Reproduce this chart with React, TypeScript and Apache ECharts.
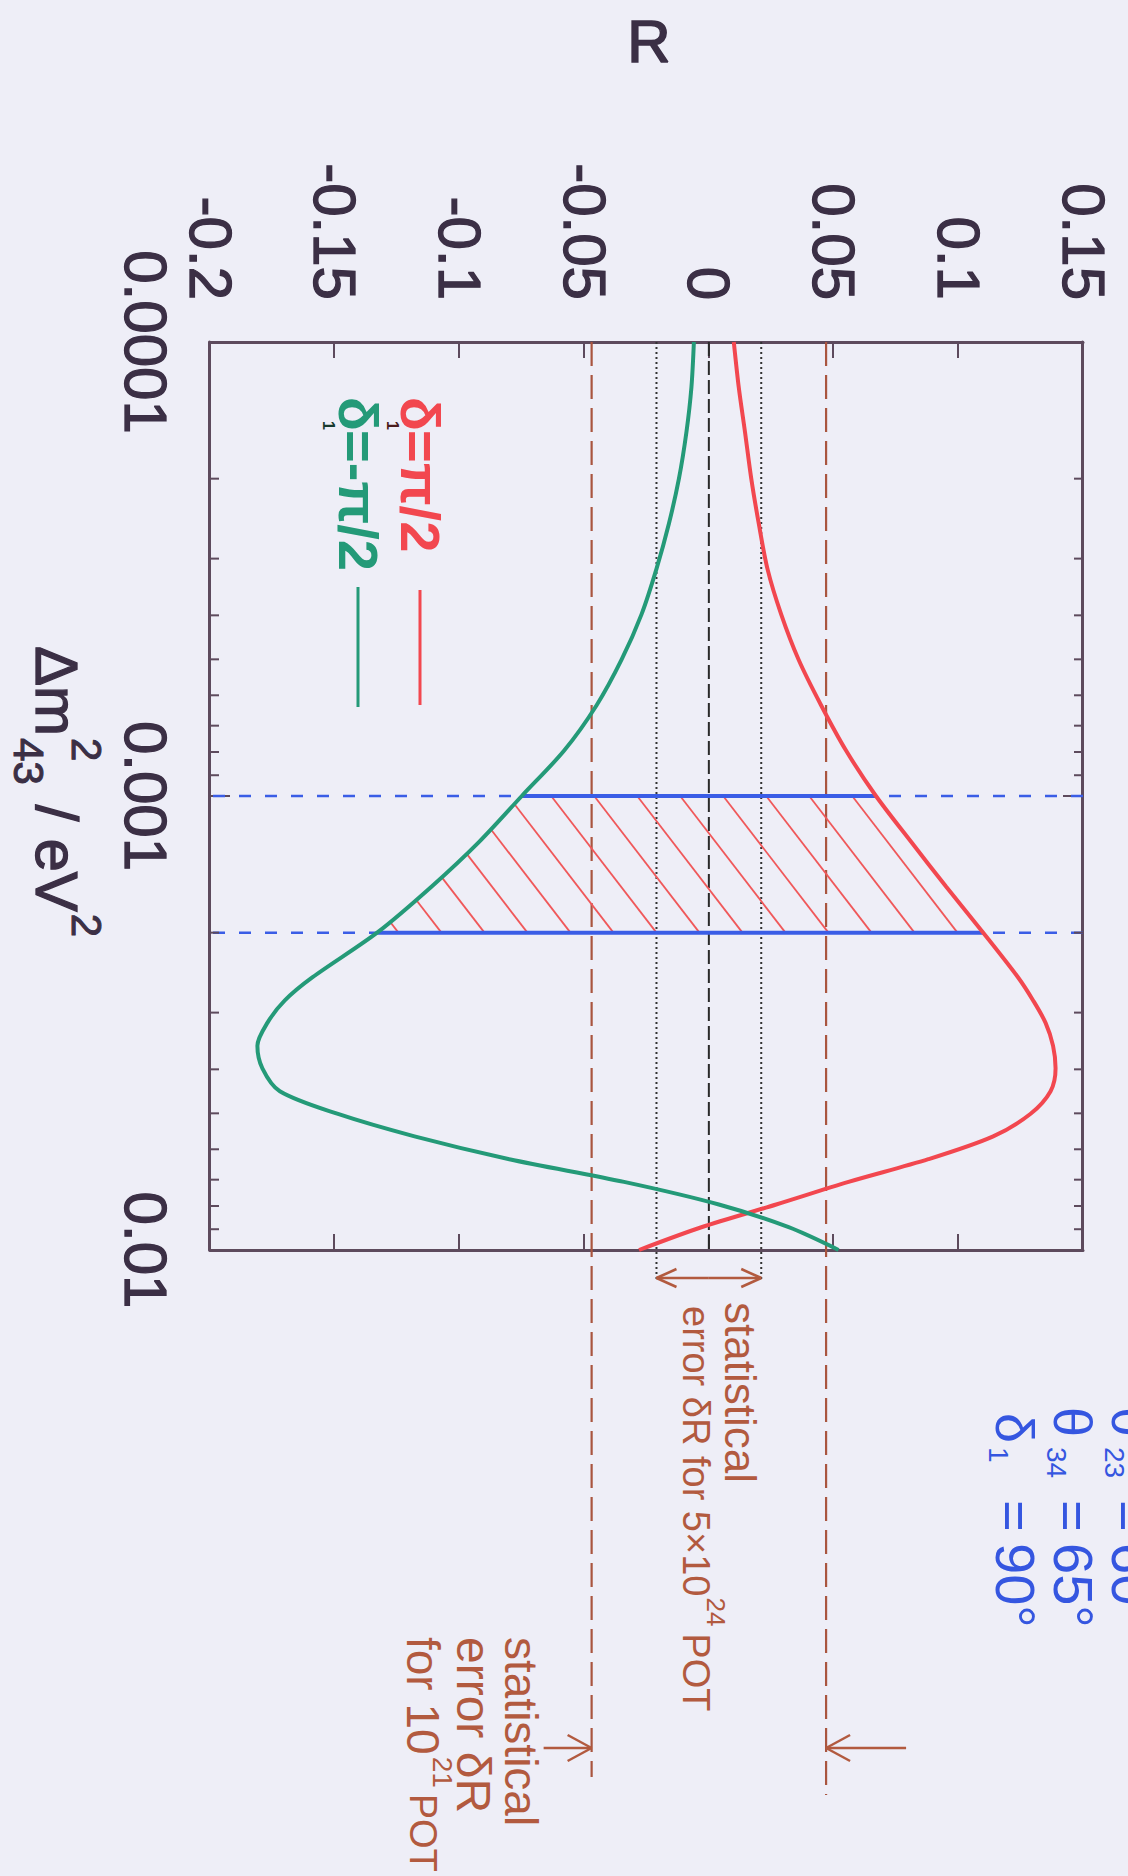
import React, { useEffect, useRef } from 'react';
import * as echarts from 'echarts';

// ---------------- data ----------------
// Δm²_43 sampling (eV²)
const dm2 = [0.0001, 0.000126, 0.000158, 0.0002, 0.000251, 0.000316, 0.000398, 0.000501, 0.000631, 0.000794, 0.001, 0.00126, 0.00158, 0.002, 0.00251, 0.00282, 0.00316, 0.00355, 0.00398, 0.00447, 0.00501, 0.00562, 0.00631, 0.00708, 0.00794, 0.00891, 0.01];
// R for δ1 = π/2 (red)
const rDeltaPlus = [0.010, 0.012, 0.0145, 0.017, 0.020, 0.0235, 0.029, 0.036, 0.045, 0.055, 0.067, 0.081, 0.095, 0.110, 0.124, 0.130, 0.135, 0.138, 0.139, 0.137, 0.129, 0.114, 0.088, 0.056, 0.027, -0.003, -0.028];
// R for δ1 = -π/2 (green)
const rDeltaMinus = [-0.006, -0.007, -0.009, -0.012, -0.016, -0.021, -0.027, -0.035, -0.045, -0.058, -0.075, -0.092, -0.111, -0.133, -0.159, -0.170, -0.177, -0.181, -0.179, -0.172, -0.149, -0.118, -0.080, -0.034, 0.004, 0.032, 0.052];

const dmTicks = [0.0001, 0.001, 0.01];
const dmTickLabels = ['0.0001', '0.001', '0.01'];
const dmMinorTicks = [0.0002, 0.0003, 0.0004, 0.0005, 0.0006, 0.0007, 0.0008, 0.0009, 0.002, 0.003, 0.004, 0.005, 0.006, 0.007, 0.008, 0.009];
const rTicks = [-0.2, -0.15, -0.1, -0.05, 0, 0.05, 0.1, 0.15];
const rTickLabels = ['-0.2', '-0.15', '-0.1', '-0.05', '0', '0.05', '0.1', '0.15'];

const hatchBand = [0.001, 0.002];          // hatched Δm² band
const errBand1e21 = [-0.047, 0.047];       // statistical error δR for 10^21 POT
const errBand5e21 = [-0.021, 0.021];       // statistical error δR for 5×10^21 POT
const zeroLine = [0];

// ---------------- layout / style ----------------
const W = 1876;
const H = 1128;
const FONT = '"Liberation Sans", Arial, sans-serif';
const RED = '#f2474f';
const GREEN = '#249a78';
const BLUE = '#3a5de6';
const BROWN = '#a9553f';
const HATCH = '#f0585a';
const FRAME = '#5d4a5d';
const LABEL = '#3b2f45';
const ANNO = '#b25a3f';
const BLUE_TXT = '#3556e0';
const BG = '#eeeef7';

function measure(text: string, size: number, weight = 'normal') {
  const c = document.createElement('canvas').getContext('2d');
  if (!c) return text.length * size * 0.55;
  c.font = `${weight} ${size}px "Liberation Sans"`;
  return c.measureText(text).width;
}

function txt(text: string, x: number, y: number, size: number, fill: string, o: any = {}) {
  const align = o.align || 'left';
  const va = o.va || 'middle';
  const style: any = {
    text, fontSize: size, fontFamily: FONT, fontWeight: o.weight || 'normal', fill,
    align, verticalAlign: va, textAlign: align, textVerticalAlign: va,
  };
  if (o.border) {
    style.stroke = fill;
    style.lineWidth = o.border;
  }
  return { type: 'text', x, y, rotation: o.rotation || 0, silent: true, z: 100, style };
}

function gline(x1: number, y1: number, x2: number, y2: number, stroke: string, w: number) {
  return { type: 'line', silent: true, z: 100, shape: { x1, y1, x2, y2 }, style: { stroke, lineWidth: w } };
}

function head(tx: number, ty: number, dx: number, dy: number, len: number, half: number, style: any) {
  const bx = tx - dx * len;
  const by = ty - dy * len;
  const nx = -dy;
  const ny = dx;
  return [
    { type: 'line', shape: { x1: tx, y1: ty, x2: bx + nx * half, y2: by + ny * half }, style },
    { type: 'line', shape: { x1: tx, y1: ty, x2: bx - nx * half, y2: by - ny * half }, style },
  ];
}

function findTickLabel(v: number, ticks: number[], labels: string[], rel: boolean) {
  for (let i = 0; i < ticks.length; i++) {
    const d = rel ? Math.abs(ticks[i] - v) / ticks[i] : Math.abs(ticks[i] - v);
    if (d < 1e-6) return labels[i];
  }
  return '';
}

function refLine(ext: number[], style: any) {
  return (params: any, api: any) => {
    const r = api.value(1);
    const cs = params.coordSys;
    const y = api.coord([dmTicks[0], r])[1];
    return {
      type: 'line',
      shape: { x1: cs.x, y1: y, x2: cs.x + cs.width + ext[params.dataIndex], y2: y },
      style,
    };
  };
}

function buildOption() {
  const axisLineStyle = { color: FRAME, width: 3 };
  const tickStyle = { color: FRAME, width: 2 };
  const labelCommon = { fontSize: 60, fontFamily: FONT, color: LABEL, textBorderColor: LABEL, textBorderWidth: 1.3 };

  const xAxisBase = {
    type: 'log', logBase: 10, min: dmTicks[0], max: dmTicks[dmTicks.length - 1], gridIndex: 0,
    axisLine: { show: true, onZero: false, lineStyle: axisLineStyle },
    axisTick: { show: true, inside: true, length: 20, lineStyle: tickStyle },
    splitLine: { show: false }, minorTick: { show: false }, minorSplitLine: { show: false },
  };
  const yAxisBase = {
    type: 'value', min: -0.2, max: 0.15, interval: 0.05, gridIndex: 0,
    axisLine: { show: true, onZero: false, lineStyle: axisLineStyle },
    axisTick: { show: true, inside: true, length: 16, lineStyle: tickStyle },
    splitLine: { show: false },
  };

  // ---- text layout (unrotated frame) ----
  const elements: any[] = [];
  // axis title R (appears upright after page rotation)
  elements.push(txt('R', 41, 479, 60, LABEL, { align: 'center', rotation: Math.PI / 2, border: 1.6 }));
  // x axis title Δm²_43 / eV²
  const xt0 = 646;
  const yMain = 1072;
  const wDm = measure('Δm', 60);
  elements.push(txt('Δm', xt0, yMain, 60, LABEL, { border: 1.3 }));
  elements.push(txt('2', xt0 + wDm + 2, yMain - 30, 42, LABEL, { border: 1 }));
  elements.push(txt('43', xt0 + wDm + 2, yMain + 28, 42, LABEL, { border: 1 }));
  const xSlash = xt0 + wDm + 2 + measure('43', 42) + 20;
  elements.push(txt('/', xSlash, yMain, 60, LABEL, { border: 1.3 }));
  const xEV = xSlash + measure('/', 60) + 17;
  elements.push(txt('eV', xEV, yMain, 60, LABEL, { border: 1.3 }));
  elements.push(txt('2', xEV + measure('eV', 60) + 2, yMain - 30, 42, LABEL, { border: 1 }));

  // legend
  elements.push(txt('δ', 397, 708, 56, RED, { weight: 'bold' }));
  elements.push(txt('1', 421, 736, 16, '#4a1c1c', { weight: 'bold' }));
  elements.push(txt('=π/2', 430, 708, 56, RED, { weight: 'bold' }));
  elements.push(gline(590, 708, 705, 708, RED, 3));
  elements.push(txt('δ', 397, 770, 56, GREEN, { weight: 'bold' }));
  elements.push(txt('1', 421, 800, 16, '#173a2e', { weight: 'bold' }));
  elements.push(txt('=-π/2', 430, 770, 56, GREEN, { weight: 'bold' }));
  elements.push(gline(587, 770, 707, 770, GREEN, 3));

  // annotation near the 5×10^21 arrow
  elements.push(txt('statistical', 1302, 388, 44, ANNO));
  const a2 = 'error δR for 5×10';
  const wa2 = measure(a2, 38);
  elements.push(txt(a2, 1306, 432, 38, ANNO));
  elements.push(txt('24', 1306 + wa2 + 1, 412, 26, ANNO));
  elements.push(txt('POT', 1306 + wa2 + measure('24', 26) + 8, 432, 38, ANNO));

  // annotation near the 10^21 arrows
  elements.push(txt('statistical', 1637, 607, 46, ANNO));
  elements.push(txt('error δR', 1637, 655, 48, ANNO));
  const wf = measure('for 10', 46);
  elements.push(txt('for 10', 1637, 705, 46, ANNO));
  elements.push(txt('21', 1637 + wf + 2, 686, 28, ANNO));
  elements.push(txt('POT', 1637 + wf + measure('21', 28) + 8, 705, 38, ANNO));

  // parameter values (blue)
  const paramRows = [
    { sym: 'θ', sub: '23', val: '60°', y: -3, xs: 1407 },
    { sym: 'θ', sub: '34', val: '65°', y: 55, xs: 1407 },
    { sym: 'δ', sub: '1', val: '90°', y: 113, xs: 1413 },
  ];
  paramRows.forEach((row) => {
    elements.push(txt(row.sym, row.xs, row.y, 54, BLUE_TXT));
    elements.push(txt(row.sub, 1447, row.y + 17, 28, BLUE_TXT));
    elements.push(txt('=', 1500, row.y, 54, BLUE_TXT));
    elements.push(txt(row.val, 1543, row.y, 56, BLUE_TXT));
  });

  const arrowStyle = { stroke: ANNO, lineWidth: 2.5, fill: 'none' };

  const series: any[] = [
    {
      type: 'custom', name: 'R = 0', silent: true, z: 2,
      data: zeroLine.map((r) => [dmTicks[0], r]),
      renderItem: refLine([0], { stroke: '#2a2a2a', lineWidth: 2, lineDash: [14, 5] }),
    },
    {
      type: 'custom', name: 'δR (5×10^21 POT)', silent: true, z: 2,
      data: errBand5e21.map((r) => [dmTicks[0], r]),
      renderItem: refLine([30, 30], { stroke: '#333333', lineWidth: 2, lineDash: [2, 3] }),
    },
    {
      type: 'custom', name: 'δR (10^21 POT)', silent: true, z: 2,
      data: errBand1e21.map((r) => [dmTicks[0], r]),
      renderItem: refLine([527, 545], { stroke: BROWN, lineWidth: 2.2, lineDash: [24, 9] }),
    },
    {
      type: 'custom', name: 'band dashed', silent: true, z: 3,
      data: hatchBand.map((d) => [d, 0]),
      renderItem: (params: any, api: any) => {
        const cs = params.coordSys;
        const x = api.coord([api.value(0), 0])[0];
        return {
          type: 'line', shape: { x1: x, y1: cs.y, x2: x, y2: cs.y + cs.height },
          style: { stroke: BLUE, lineWidth: 2.5, lineDash: [12, 14] },
        };
      },
    },
    {
      type: 'custom', name: 'hatch', silent: true, z: 4,
      data: [[hatchBand[0], 0]],
      renderItem: (params: any, api: any) => {
        const idx: number[] = [];
        dm2.forEach((d, i) => {
          if (d >= hatchBand[0] * (1 - 1e-9) && d <= hatchBand[1] * (1 + 1e-9)) idx.push(i);
        });
        const poly = [
          ...idx.map((i) => api.coord([dm2[i], rDeltaMinus[i]])),
          ...idx.slice().reverse().map((i) => api.coord([dm2[i], rDeltaPlus[i]])),
        ];
        const k = 0.77;
        const step = 43;
        const cv = poly.map((p: number[]) => p[1] + k * p[0]);
        const cmin = Math.min(...cv);
        const cmax = Math.max(...cv);
        const children: any[] = [];
        for (let c = cmin + step * 0.6; c < cmax; c += step) {
          const xs: number[] = [];
          for (let j = 0; j < poly.length; j++) {
            const p = poly[j];
            const q = poly[(j + 1) % poly.length];
            const fp = p[1] + k * p[0] - c;
            const fq = q[1] + k * q[0] - c;
            if ((fp < 0) !== (fq < 0)) {
              const t = fp / (fp - fq);
              xs.push(p[0] + t * (q[0] - p[0]));
            }
          }
          xs.sort((a, b) => a - b);
          for (let m = 0; m + 1 < xs.length; m += 2) {
            children.push({
              type: 'line',
              shape: { x1: xs[m], y1: c - k * xs[m], x2: xs[m + 1], y2: c - k * xs[m + 1] },
              style: { stroke: HATCH, lineWidth: 1.8 },
            });
          }
        }
        return { type: 'group', children };
      },
    },
    {
      type: 'custom', name: 'band solid', silent: true, z: 5,
      data: hatchBand.map((d) => [d, 0]),
      renderItem: (params: any, api: any) => {
        const d = api.value(0);
        const i = dm2.findIndex((v) => Math.abs(v - d) / d < 1e-9);
        const p0 = api.coord([d, rDeltaMinus[i]]);
        const p1 = api.coord([d, rDeltaPlus[i]]);
        return {
          type: 'line', shape: { x1: p0[0], y1: p0[1], x2: p1[0], y2: p1[1] },
          style: { stroke: BLUE, lineWidth: 4 },
        };
      },
    },
    {
      type: 'line', name: 'δ1=π/2', z: 6,
      data: dm2.map((d, i) => [d, rDeltaPlus[i]]),
      showSymbol: false, symbol: 'none', smooth: 0.3,
      lineStyle: { color: RED, width: 4 }, itemStyle: { color: RED },
    },
    {
      type: 'line', name: 'δ1=-π/2', z: 6,
      data: dm2.map((d, i) => [d, rDeltaMinus[i]]),
      showSymbol: false, symbol: 'none', smooth: 0.3,
      lineStyle: { color: GREEN, width: 4 }, itemStyle: { color: GREEN },
    },
    {
      type: 'custom', name: 'arrow 5e21', silent: true, z: 7,
      data: errBand5e21.map((r) => [dmTicks[2], r]),
      renderItem: (params: any, api: any) => {
        const cs = params.coordSys;
        const x = cs.x + cs.width + 28;
        const yc = api.coord([dmTicks[2], (errBand5e21[0] + errBand5e21[1]) / 2])[1];
        const yt = api.coord([dmTicks[2], api.value(1)])[1];
        const dir = yt > yc ? 1 : -1;
        return {
          type: 'group',
          children: [
            { type: 'line', shape: { x1: x, y1: yc, x2: x, y2: yt }, style: arrowStyle },
            ...head(x, yt, 0, dir, 20, 9, arrowStyle),
          ],
        };
      },
    },
    {
      type: 'custom', name: 'arrow 1e21', silent: true, z: 7,
      data: errBand1e21.map((r) => [dmTicks[2], r]),
      renderItem: (params: any, api: any) => {
        const cs = params.coordSys;
        const x = cs.x + cs.width + 498;
        const r = api.value(1);
        const yt = api.coord([dmTicks[2], r])[1];
        const len = [48, 80][params.dataIndex];
        const dir = r < 0 ? -1 : 1;
        const y0 = yt - dir * len;
        return {
          type: 'group',
          children: [
            { type: 'line', shape: { x1: x, y1: y0, x2: x, y2: yt }, style: arrowStyle },
            ...head(x, yt, 0, dir, 24, 13, arrowStyle),
          ],
        };
      },
    },
    {
      type: 'custom', name: 'minor ticks', silent: true, z: 8,
      data: dmMinorTicks.map((d) => [d, 0]),
      renderItem: (params: any, api: any) => {
        const cs = params.coordSys;
        const x = api.coord([api.value(0), 0])[0];
        const st = { stroke: FRAME, lineWidth: 2 };
        return {
          type: 'group',
          children: [
            { type: 'line', shape: { x1: x, y1: cs.y + cs.height, x2: x, y2: cs.y + cs.height - 9 }, style: st },
            { type: 'line', shape: { x1: x, y1: cs.y, x2: x, y2: cs.y + 9 }, style: st },
          ],
        };
      },
    },
  ];

  return {
    animation: false,
    backgroundColor: BG,
    grid: { left: 342, right: 626, top: 45, bottom: 210 },
    xAxis: [
      {
        ...xAxisBase, position: 'bottom',
        axisLabel: {
          ...labelCommon, show: true, margin: 35, showMinLabel: true, showMaxLabel: true,
          formatter: (v: number) => findTickLabel(v, dmTicks, dmTickLabels, true),
        },
      },
      { ...xAxisBase, position: 'top', axisLabel: { show: false } },
    ],
    yAxis: [
      {
        ...yAxisBase, position: 'left',
        axisLabel: {
          ...labelCommon, show: true, margin: 42, showMinLabel: true, showMaxLabel: true,
          formatter: (v: number) => findTickLabel(v, rTicks, rTickLabels, false),
        },
      },
      { ...yAxisBase, position: 'right', axisLabel: { show: false } },
    ],
    series,
    graphic: { elements },
  };
}

export default function App() {
  const ref = useRef<HTMLDivElement>(null);
  useEffect(() => {
    if (!ref.current) return;
    const chart = echarts.init(ref.current, undefined, { renderer: 'svg', width: W, height: H });
    chart.setOption(buildOption() as any);
    return () => chart.dispose();
  }, []);
  return (
    <div style={{ position: 'absolute', left: 0, top: 0, width: 1128, height: 1876, overflow: 'hidden', background: BG }}>
      <div
        ref={ref}
        style={{
          position: 'absolute', left: 0, top: 0, width: W, height: H,
          transformOrigin: '0 0', transform: 'translate(1128px, 0px) rotate(90deg)',
        }}
      />
    </div>
  );
}
